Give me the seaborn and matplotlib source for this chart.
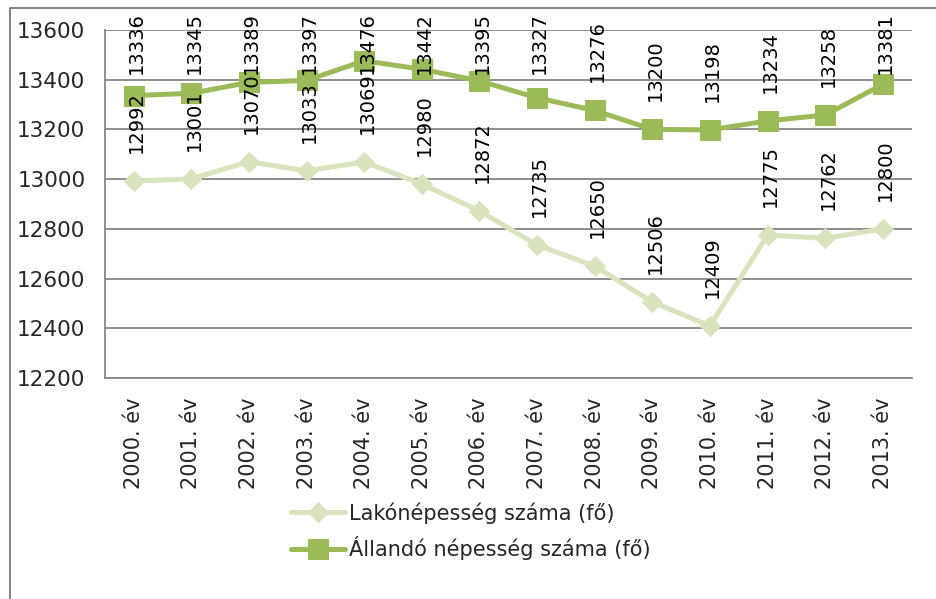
import numpy as np
import pandas as pd
import seaborn as sns
import matplotlib.pyplot as plt
from matplotlib.lines import Line2D

years = ["2000. év", "2001. év", "2002. év", "2003. év", "2004. év", "2005. év", "2006. év",
         "2007. év", "2008. év", "2009. év", "2010. év", "2011. év", "2012. év", "2013. év"]
lako = [12992, 13001, 13070, 13033, 13069, 12980, 12872, 12735, 12650, 12506, 12409, 12775, 12762, 12800]
allando = [13336, 13345, 13389, 13397, 13476, 13442, 13395, 13327, 13276, 13200, 13198, 13234, 13258, 13381]

lako_name = "Lakónépesség száma (fő)"
allando_name = "Állandó népesség száma (fő)"
lako_col = "#D7E4BD"
allando_col = "#9BBB59"

df = pd.DataFrame({"pos": np.arange(len(years)), "lako": lako, "allando": allando})

sns.set_style("white")
plt.rcParams["font.family"] = ["DejaVu Sans"]

W, H = 936, 599
fig = plt.figure(figsize=(W / 100, H / 100), dpi=100)
ax = fig.add_axes([0.112, 0.369, 0.862, 0.581])

# outer chart border (left and top edges only, the rest is cut off in the original)
fig.add_artist(Line2D([10 / W, 10 / W, 1], [0, 1 - 7.5 / H, 1 - 7.5 / H], transform=fig.transFigure,
                      color="#868686", linewidth=1.5))

sns.lineplot(data=df, x="pos", y="lako", ax=ax, color=lako_col, linewidth=3.6,
             marker="D", markersize=10, markeredgecolor=lako_col, label=lako_name)
sns.lineplot(data=df, x="pos", y="allando", ax=ax, color=allando_col, linewidth=3.6,
             marker="s", markersize=14, markeredgecolor=allando_col, label=allando_name)

ax.set_xlim(-0.5, len(years) - 0.5)
ax.set_ylim(12200, 13600)

# data labels: rotated, above the point, kept inside the chart area at the top
label_len = 60  # px, approx. length of a 5 digit label
for col in ["lako", "allando"]:
    for x, y in zip(df["pos"], df[col]):
        py = H - ax.transData.transform((x, y))[1]
        gap = min(28, py - 14 - label_len)
        ax.annotate(str(y), (x, y), xytext=(2, gap * 0.72), textcoords="offset points", rotation=90,
                    ha="center", va="bottom", fontsize=14, color="black")

ax.set_yticks(np.arange(12200, 13601, 200))
ax.set_xticks(np.arange(len(years)))
ax.set_xticklabels(years, rotation=90, fontsize=15)
ax.set_xticks(np.arange(len(years) + 1) - 0.5, minor=True)
ax.tick_params(axis="x", which="major", length=0, pad=14)
ax.tick_params(axis="x", which="minor", length=6, color="#868686", width=1.2, direction="out")
ax.tick_params(axis="y", length=6, color="#868686", width=1.2, labelsize=15.5, pad=8)
ax.set_xlabel("")
ax.set_ylabel("")
ax.yaxis.grid(True, color="#868686", linewidth=1.3)
ax.set_axisbelow(True)
for s in ["top", "right"]:
    ax.spines[s].set_visible(False)
for s in ["left", "bottom"]:
    ax.spines[s].set_color("#868686")
    ax.spines[s].set_linewidth(1.3)

ax.legend(loc="upper left", bbox_to_anchor=(291 / W, 1 - 502 / H), bbox_transform=fig.transFigure,
          frameon=False, fontsize=15, handlelength=2.6, handletextpad=0.2, labelspacing=0.6,
          borderaxespad=0, borderpad=0)

fig.savefig("out.png", dpi=100)
